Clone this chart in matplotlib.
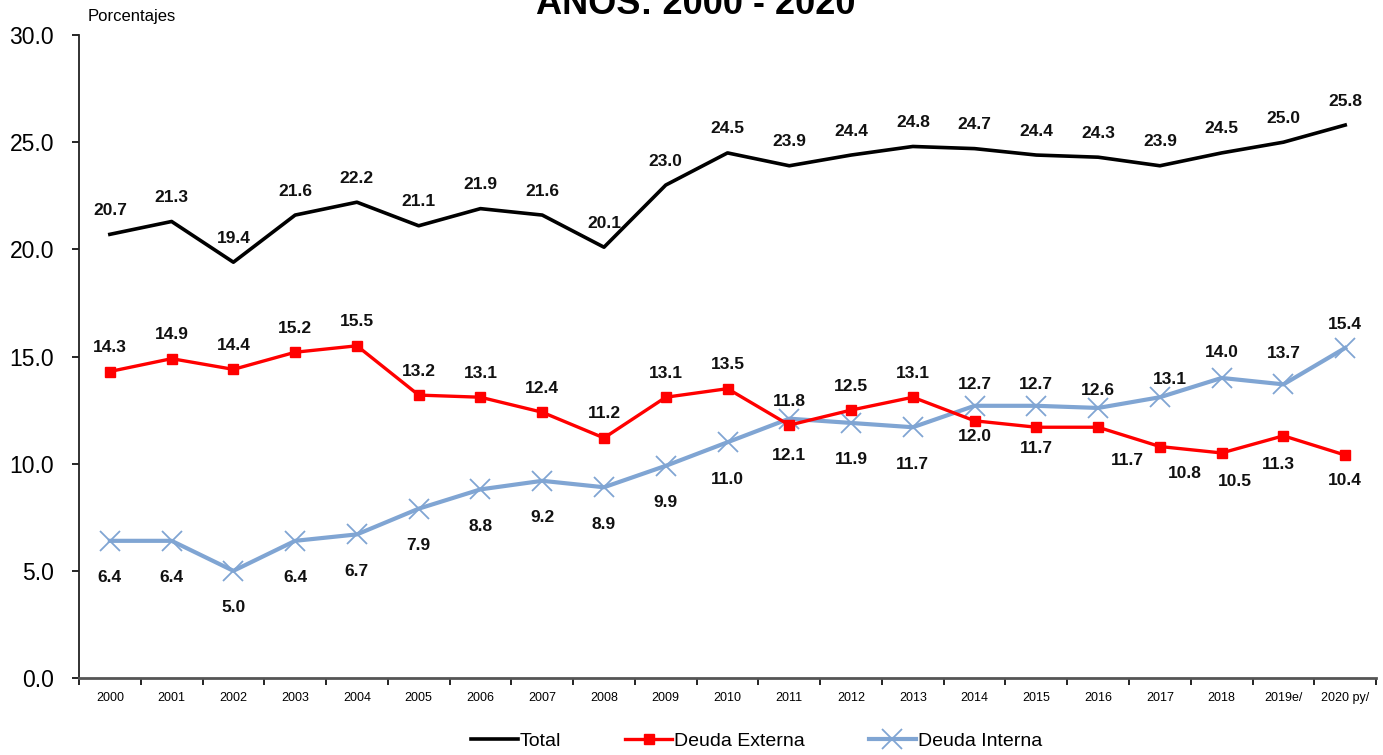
"""
Deuda pública como porcentaje del PIB, años 2000 - 2020.
Recreación del gráfico de líneas: Total, Deuda Externa y Deuda Interna.
"""

import matplotlib.pyplot as plt

plt.rcParams["font.family"] = ["Liberation Sans", "DejaVu Sans"]

years = ["2000", "2001", "2002", "2003", "2004", "2005", "2006", "2007",
         "2008", "2009", "2010", "2011", "2012", "2013", "2014", "2015",
         "2016", "2017", "2018", "2019e/", "2020 py/"]

total = [20.7, 21.3, 19.4, 21.6, 22.2, 21.1, 21.9, 21.6, 20.1, 23.0, 24.5,
         23.9, 24.4, 24.8, 24.7, 24.4, 24.3, 23.9, 24.5, 25.0, 25.8]
externa = [14.3, 14.9, 14.4, 15.2, 15.5, 13.2, 13.1, 12.4, 11.2, 13.1, 13.5,
           11.8, 12.5, 13.1, 12.0, 11.7, 11.7, 10.8, 10.5, 11.3, 10.4]
interna = [6.4, 6.4, 5.0, 6.4, 6.7, 7.9, 8.8, 9.2, 8.9, 9.9, 11.0,
           12.1, 11.9, 11.7, 12.7, 12.7, 12.6, 13.1, 14.0, 13.7, 15.4]

# label offsets in pixels (dx, dy), as placed in the original chart
off_total = [(0, 24)] * 21
off_externa = [(0, 24)] * 14 + [(0, -16), (0, -21), (29, -33), (25, -27),
                                (13, -29), (-5, -29), (0, -25)]
off_interna = [(0, -37)] * 14 + [(0, 21), (0, 21), (0, 17), (10, 18),
                                 (0, 25), (0, 31), (0, 23)]

fig = plt.figure(figsize=(13.83, 7.55), dpi=100)
ax = fig.add_axes([0.0571, 0.102, 0.9379, 0.8516])

x = list(range(len(years)))
ax.plot(x, total, color="black", lw=2.6, label="Total", zorder=3)
ax.plot(x, externa, color="#FF0000", lw=2.4, marker="s", markersize=7,
        label="Deuda Externa", zorder=4)
ax.plot(x, interna, color="#80A5D3", lw=3.0, marker="x", markersize=14,
        markeredgewidth=1.3, label="Deuda Interna", zorder=2)

for series, offs in ((total, off_total), (externa, off_externa), (interna, off_interna)):
    for xi, v, (dx, dy) in zip(x, series, offs):
        ax.annotate(f"{v:.1f}", (xi, v), xytext=(dx, dy), textcoords="offset pixels",
                    ha="center", va="center", fontsize=12.5, fontweight="bold",
                    color="#111111", zorder=5)

ax.set_ylim(0, 30)
ax.set_xlim(-0.5, len(years) - 0.5)
ax.set_yticks([0, 5, 10, 15, 20, 25, 30])
ax.set_yticklabels([f"{t:.1f}" for t in [0, 5, 10, 15, 20, 25, 30]], fontsize=16.5)
ax.tick_params(axis="y", direction="out", length=5, width=1.2, pad=13)

ax.set_xticks([i - 0.5 for i in range(len(years) + 1)])
ax.set_xticklabels([])
ax.set_xticks(x, minor=True)
ax.set_xticklabels(years, minor=True, fontsize=9)
ax.tick_params(axis="x", which="major", direction="out", length=5, width=1.2)
ax.tick_params(axis="x", which="minor", length=0, pad=10)

for side in ("top", "right"):
    ax.spines[side].set_visible(False)
ax.spines["left"].set_linewidth(1.3)
ax.spines["left"].set_color("#222222")
ax.spines["bottom"].set_linewidth(2.0)
ax.spines["bottom"].set_color("#555555")

fig.text(88 / 1383, 1 - 17 / 755, "Porcentajes", fontsize=12, va="center", ha="left")
fig.text(0.503, 0.9815, "AÑOS: 2000 - 2020", fontsize=26, fontweight="bold",
         ha="center", va="baseline")

fig.legend(loc="center", bbox_to_anchor=(0.547, 0.018), ncol=3, frameon=False,
           fontsize=14, handlelength=2.4, handletextpad=0.1, columnspacing=3.3)

fig.savefig("out.png", dpi=100)
